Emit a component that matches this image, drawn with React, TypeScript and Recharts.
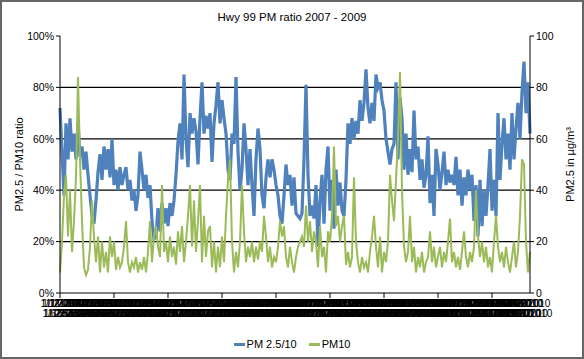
import { LineChart, Line, XAxis, YAxis, ReferenceLine } from "recharts";

// PM2.5 / PM10 ratio, in percent (left axis)
const ratio1 = [72, 55, 38, 66, 52, 68, 55, 62, 52, 66, 53, 57, 48, 55, 46, 38, 30, 27, 36, 47, 54, 44, 57, 48, 56, 45, 60, 42, 48, 40, 49, 42, 46, 49, 40, 44, 36, 40, 32, 38, 55, 48, 40, 46, 37, 42, 28, 21];
const ratio2 = [22, 33, 24, 35, 27, 33, 26, 35, 30, 36, 46, 59, 66, 52, 85, 60, 49, 70, 62, 68, 63, 50, 68, 82, 62, 69, 64, 70, 51, 66, 73, 82, 66, 75, 68, 62, 48, 44, 62, 58, 84, 55, 40, 48, 66, 56, 42];
const ratio3 = [56, 42, 30, 52, 64, 56, 38, 33, 45, 52, 45, 52, 48, 42, 38, 30, 27, 38, 50, 42, 46, 34, 45, 31, 30, 29, 31, 52, 81, 46, 30, 34, 29, 42, 18, 36, 46, 27, 48, 57, 32, 44, 25, 48, 34, 43, 32];
const ratio4 = [30, 44, 66, 58, 68, 60, 67, 62, 75, 67, 74, 87, 72, 66, 74, 67, 85, 80, 82, 75, 71, 60, 55, 50, 56, 58, 82, 52, 76, 68, 48, 62, 46, 56, 47, 71, 52, 57, 44, 52, 41, 46, 61, 35, 46, 30, 56];
const ratio5 = [50, 40, 47, 55, 42, 48, 43, 46, 42, 53, 38, 48, 34, 45, 38, 48, 40, 46, 28, 42, 22, 44, 26, 40, 30, 42, 56, 32, 44, 30, 70, 44, 58, 68, 52, 62, 48, 70, 52, 64, 74, 60, 78, 90, 70, 82, 62];

// PM10 in µg/m³ (right axis)
const pm10a = [8, 20, 38, 46, 22, 40, 16, 28, 45, 84, 52, 28, 10, 7, 9, 18, 36, 22, 12, 22, 8, 20, 10, 16, 8, 22, 14, 20, 9, 14, 10, 12, 18, 28, 12, 8, 12, 10, 14, 8, 12, 9, 14, 8, 16, 28, 12, 22];
const pm10b = [26, 18, 14, 42, 16, 20, 12, 22, 14, 18, 11, 24, 16, 26, 12, 20, 30, 42, 18, 36, 16, 28, 42, 12, 30, 14, 24, 26, 10, 20, 8, 18, 10, 22, 12, 30, 44, 52, 20, 8, 16, 10, 20, 42, 24, 12, 18];
const pm10c = [14, 20, 12, 18, 13, 20, 16, 30, 22, 12, 18, 10, 14, 12, 18, 28, 22, 26, 14, 10, 18, 12, 8, 14, 18, 20, 22, 18, 34, 20, 28, 16, 24, 20, 10, 26, 14, 18, 8, 24, 20, 30, 57, 26, 30, 20, 26];
const pm10d = [30, 11, 16, 10, 14, 45, 20, 12, 8, 14, 10, 12, 8, 16, 22, 30, 18, 10, 22, 8, 16, 12, 20, 46, 36, 28, 44, 60, 86, 40, 18, 12, 16, 30, 12, 18, 8, 14, 10, 16, 8, 12, 14, 24, 12, 18, 10];
const pm10e = [14, 18, 10, 16, 12, 20, 29, 12, 16, 10, 14, 9, 16, 24, 14, 10, 16, 12, 18, 40, 22, 14, 20, 12, 18, 10, 14, 8, 20, 30, 18, 12, 16, 10, 18, 12, 8, 14, 20, 10, 16, 30, 52, 50, 20, 8, 16];

const ratio = [...ratio1, ...ratio2, ...ratio3, ...ratio4, ...ratio5];
const pm10 = [...pm10a, ...pm10b, ...pm10c, ...pm10d, ...pm10e];

const leftTicks = [0, 20, 40, 60, 80, 100];
const rightTicks = [0, 20, 40, 60, 80, 100];
const gridValues = [20, 40, 60, 80];

// sample dates, one every 5 days from the start of 2007
const startDay = Date.UTC(2007, 0, 1);
const dates = ratio.map((_, i) => {
  const d = new Date(startDay + i * 5 * 86400000);
  return `${d.getUTCMonth() + 1}/${d.getUTCDate()}/${d.getUTCFullYear()}`;
});

const data = dates.map((date, i) => ({ date, ratio: ratio[i], pm10: pm10[i] }));

const BLUE = "#4f81bd";
const GREEN = "#9bbb59";
const FONT = "'Liberation Sans', Arial, sans-serif";

function DateTick(props: any) {
  const { x, y, payload, index } = props;
  return (
    <g>
      {index % 27 === 0 && <line x1={x} x2={x} y1={y - 8} y2={y - 3} stroke="#000" />}
      <text x={x} y={y + (index % 2 ? 16 : 6)} textAnchor="middle" fontSize={10} fontFamily={FONT} fill="#000">
        {payload.value}
      </text>
    </g>
  );
}

export default function App() {
  return (
    <div style={{ position: "absolute", left: 0, top: 0, width: 584, height: 359, boxSizing: "border-box", border: "2px solid #666", background: "#fff", fontFamily: FONT }}>
      <div style={{ position: "absolute", left: 0, right: 0, top: 9, textAlign: "center", fontSize: 11.5, color: "#000" }}>
        Hwy 99 PM ratio 2007 - 2009
      </div>
      <div style={{ position: "absolute", left: -2, top: -2 }}>
        <LineChart width={584} height={359} data={data} margin={{ top: 36, right: 0, bottom: 36, left: 0 }}>
          {gridValues.map((v) => (
            <ReferenceLine key={v} yAxisId="left" y={v} stroke="#000" strokeWidth={1.3} />
          ))}
          <XAxis dataKey="date" interval={0} height={30} tickLine={false} stroke="#000" tick={<DateTick />} />
          <YAxis
            yAxisId="left"
            width={60}
            domain={[0, 100]}
            ticks={leftTicks}
            tickFormatter={(v) => `${v}%`}
            stroke="#000"
            tickSize={4}
            tick={{ fontSize: 10.5, fill: "#000", fontFamily: FONT }}
            label={{ value: "PM2.5 / PM10 ratio", angle: -90, position: "insideLeft", offset: 19, style: { fontSize: 11, fill: "#000", fontFamily: FONT, textAnchor: "middle" } }}
          />
          <YAxis
            yAxisId="right"
            orientation="right"
            width={54}
            domain={[0, 100]}
            ticks={rightTicks}
            stroke="#000"
            tickSize={4}
            tick={{ fontSize: 10.5, fill: "#000", fontFamily: FONT }}
            label={{ value: "PM2.5 in µg/m³", angle: -90, position: "insideRight", offset: 14, style: { fontSize: 11, fill: "#000", fontFamily: FONT, textAnchor: "middle" } }}
          />
          <Line yAxisId="left" dataKey="ratio" type="linear" stroke={BLUE} strokeWidth={3.2} dot={false} isAnimationActive={false} />
          <Line yAxisId="right" dataKey="pm10" type="linear" stroke={GREEN} strokeWidth={2} dot={false} isAnimationActive={false} />
        </LineChart>
      </div>
      <div style={{ position: "absolute", left: 0, right: 0, top: 336, display: "flex", justifyContent: "center", gap: 12, fontSize: 11, color: "#000" }}>
        <span style={{ display: "flex", alignItems: "center" }}>
          <span style={{ display: "inline-block", width: 11, height: 3, background: BLUE, marginRight: 2 }} />
          PM 2.5/10
        </span>
        <span style={{ display: "flex", alignItems: "center" }}>
          <span style={{ display: "inline-block", width: 11, height: 3, background: GREEN, marginRight: 2 }} />
          PM10
        </span>
      </div>
    </div>
  );
}
